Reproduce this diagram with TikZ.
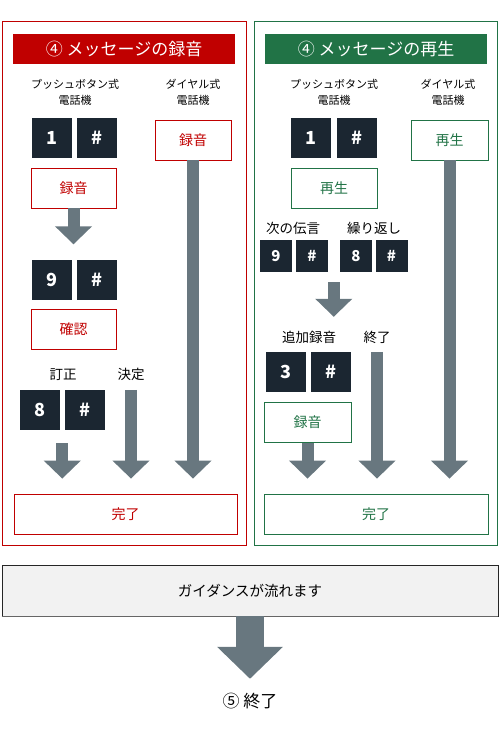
\documentclass[tikz,border=0pt]{standalone}
\usepackage{fontspec}
\setmainfont{Noto Sans CJK JP}
\usetikzlibrary{calc}
\usetikzlibrary{positioning}
\usetikzlibrary{arrows.meta}
\definecolor{recred}{HTML}{C00000}
\definecolor{playgreen}{HTML}{217346}
\definecolor{keydark}{HTML}{1B2631}
\definecolor{flowgray}{HTML}{68777F}
\definecolor{guidefill}{HTML}{F2F2F2}
\newcommand{\fsz}[1]{\fontsize{#1}{#1}\selectfont}

\begin{document}
\begin{tikzpicture}[x=1pt, y=-1pt,
    key/.style={rectangle, fill=keydark, text=white, minimum size=40pt, inner sep=0pt, font=\fsz{18}\bfseries},
    smallkey/.style={key, minimum size=32pt, font=\fsz{15}\bfseries},
    redbox/.style={rectangle, draw=recred, text=recred, line width=0.8pt, minimum width=85pt, minimum height=40pt, inner sep=0pt, font=\fsz{14}},
    greenbox/.style={redbox, draw=playgreen, text=playgreen},
    head/.style={rectangle, minimum width=222pt, minimum height=30pt, inner sep=0pt, text=white, font=\fsz{17}},
    phone/.style={align=center, inner sep=0pt, font=\fontsize{11}{16}\selectfont},
    lbl/.style={inner sep=0pt, font=\fsz{13.5}, text height=11.9pt, text depth=1.6pt},
    flow/.style={draw=flowgray, line width=12pt, -{Triangle[width=36pt, length=18pt]}}]
    \useasboundingbox (0,0) rectangle (500,730);

    \draw[recred, line width=0.8pt] (2,21) rectangle (246,545);
    \draw[playgreen, line width=0.8pt] (254,21) rectangle (497,545);

    \node[head, fill=recred] (headL) at (124,49) {④ メッセージの録音};
    \node[head, fill=playgreen] (headR) at (376,49) {④ メッセージの再生};

    \node[phone] (pushL) at (75,92) {プッシュボタン式\\電話機};
    \node[phone] (dialL) at (193,92) {ダイヤル式\\電話機};
    \node[phone] (pushR) at (334,92) {プッシュボタン式\\電話機};
    \node[phone] (dialR) at (448,92) {ダイヤル式\\電話機};

    \node[key] (oneL) at (52,138) {1};
    \node[key] (hashL1) at (97,138) {\#};
    \node[redbox, minimum width=76pt] (dialrecL) at (193,140) {録音};
    \node[redbox] (recL) at (73.5,188) {録音};
    \node[key] (nineL) at (52,279.5) {9};
    \node[key] (hashL9) at (97,279.5) {\#};
    \node[redbox] (checkL) at (73.5,329.5) {確認};
    \node[lbl] (fixL) at (63,374) {訂正};
    \node[lbl] (okL) at (131,374) {決定};
    \node[key] (eightL) at (39.5,410) {8};
    \node[key] (hashL8) at (85,410) {\#};
    \node[redbox, minimum width=223pt] (doneL) at (125.5,514) {完了};

    \coordinate (midL) at ($(eightL.south)!0.5!(hashL8.south)$);
    \draw[flow, shorten >=15pt] (recL.south) -- (recL.south |- nineL.north);
    \draw[flow, shorten <=13pt, shorten >=15pt] (midL) -- (midL |- doneL.north);
    \draw[flow, shorten >=15pt] (eightL.north -| okL) -- (okL |- doneL.north);
    \draw[flow, shorten >=15pt] (dialrecL.south) -- (dialrecL.south |- doneL.north);

    \node[key] (oneR) at (311,138) {1};
    \node[key] (hashR1) at (357,138) {\#};
    \node[greenbox, minimum width=77pt] (dialplayR) at (449.5,140) {再生};
    \node[greenbox, minimum width=86pt] (playR) at (334,188) {再生};
    \node[lbl] (nextR) at (293,228) {次の伝言};
    \node[lbl] (againR) at (374,228) {繰り返し};
    \node[smallkey] (nineR) at (276,256) {9};
    \node[smallkey] (hashR9) at (312,256) {\#};
    \node[smallkey] (eightR) at (356,256) {8};
    \node[smallkey] (hashR8) at (391.5,256) {\#};
    \node[lbl] (addR) at (309,337) {追加録音};
    \node[lbl] (endR) at (377,337) {終了};
    \node[key] (threeR) at (285.5,372) {3};
    \node[key] (hashR3) at (331,372) {\#};
    \node[greenbox, minimum width=87pt] (recR) at (307.5,422.5) {録音};
    \node[greenbox, minimum width=224pt] (doneR) at (376,514) {完了};

    \coordinate (midR) at ($(nineR.south)!0.5!(hashR8.south)$);
    \draw[flow, shorten <=10pt, shorten >=35pt] (midR) -- (midR |- threeR.north);
    \draw[flow, shorten >=15pt] (threeR.north -| endR) -- (endR |- doneR.north);
    \draw[flow, shorten >=15pt] (recR.south) -- (recR.south |- doneR.north);
    \draw[flow, shorten >=15pt] (dialplayR.south) -- (dialplayR.south |- doneR.north);

    \node[draw=black!85, fill=guidefill, line width=0.8pt, minimum width=496pt, minimum height=51pt, inner sep=0pt, font=\fsz{14.5}] (guide) at (250,590.5) {ガイダンスが流れます};
    \draw[black!60, line width=1.6pt] (guide.south west) -- (guide.south east);
    \node[lbl, font=\fsz{17}, text height=15pt, text depth=2pt] (finish) at (250,701) {⑤ 終了};
    \draw[flow, line width=28pt, -{Triangle[width=64pt, length=32pt]}, shorten >=13.5pt] (guide.south) -- (finish.north);
\end{tikzpicture}
\end{document}
